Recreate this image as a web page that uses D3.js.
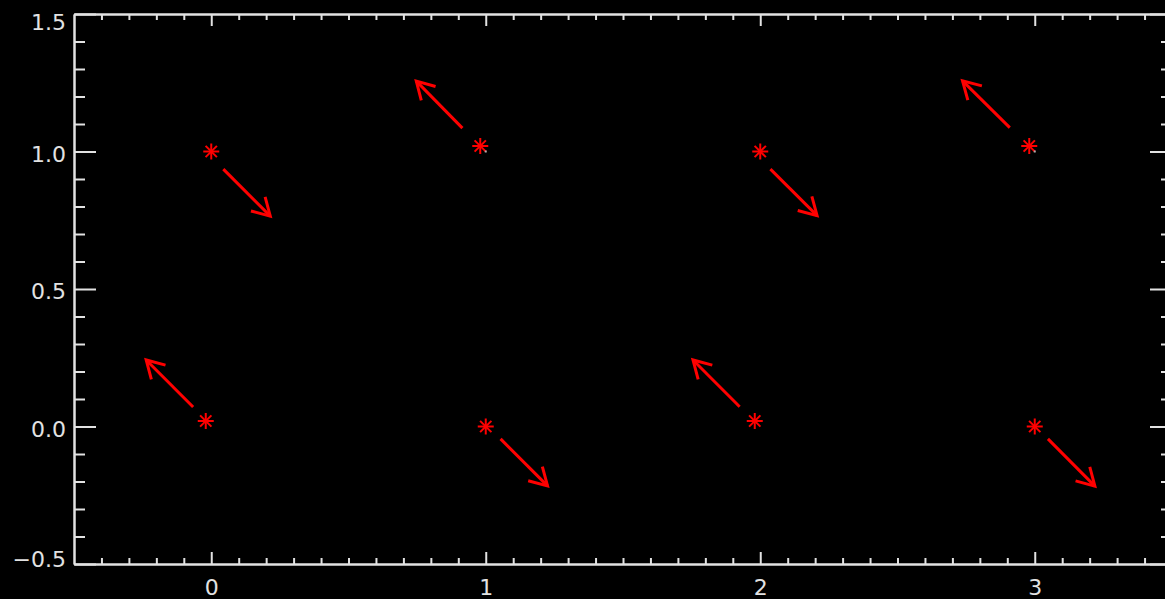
<!DOCTYPE html>
<html>
<head>
<meta charset="utf-8">
<script src="https://cdn.jsdelivr.net/npm/d3@7"></script>
<style>
  html, body { margin: 0; padding: 0; background: #000; }
  svg { display: block; }
</style>
</head>
<body>
<svg id="chart" width="1165" height="599"></svg>
<script>
// Asterisk markers
const starX = [-0.02, 0.0, 0.98, 1.0, 1.98, 2.0, 2.98, 3.0];
const starY = [0.02, 1.0, 1.02, 0.0, 0.02, 1.0, 1.02, 0.0];

// Small point markers
const dotX = [1, 3];
const dotY = [1, 1];

// Arrows: tail (x0,y0) to head (x1,y1)
const arrowX0 = [-0.066, 0.044, 0.915, 1.054, 2.037, 1.925, 2.909, 3.048];
const arrowY0 = [0.071, 0.936, 1.085, -0.045, 0.936, 0.072, 1.087, -0.045];
const arrowX1 = [-0.237, 0.215, 0.747, 1.225, 2.207, 1.755, 2.737, 3.219];
const arrowY1 = [0.242, 0.765, 1.256, -0.216, 0.767, 0.242, 1.257, -0.217];

// Axis ticks and labels
const xMajor = [0, 1, 2, 3];
const xLabels = ["0", "1", "2", "3"];
const yMajor = [-0.5, 0.0, 0.5, 1.0, 1.5];
const yLabels = ["\u22120.5", "0.0", "0.5", "1.0", "1.5"];
const xDomain = [-0.5, 3.5];
const yDomain = [-0.5, 1.5];

(function draw() {
  const AXIS = "#e2e2e2";
  const RED = "#ff0000";

  const svg = d3.select("#chart");
  svg.append("rect").attr("width", 1165).attr("height", 599).attr("fill", "#000");

  const pLeft = 74, pRight = 1172, pTop = 14, pBottom = 564;
  const x = d3.scaleLinear().domain(xDomain).range([pLeft, pRight]);
  const y = d3.scaleLinear().domain(yDomain).range([pBottom, pTop]);

  const minorX = d3.range(-4, 36).map(i => i / 10)
    .filter(v => !xMajor.some(m => Math.abs(m - v) < 1e-9));
  const minorY = d3.range(-4, 15).map(i => i / 10)
    .filter(v => !yMajor.some(m => Math.abs(m - v) < 1e-9));

  function styleAxis(g) {
    g.selectAll("path.domain").attr("stroke", AXIS).attr("stroke-width", 2);
    g.selectAll(".tick line").attr("stroke", AXIS).attr("stroke-width", 2);
    g.selectAll("text").attr("fill", AXIS)
      .attr("font-family", "DejaVu Sans, sans-serif").attr("font-size", 22);
  }

  // Bottom axis: major ticks with labels, then minor ticks
  const gb = svg.append("g").attr("transform", `translate(0,${pBottom})`)
    .call(d3.axisBottom(x).tickValues(xMajor).tickFormat((d, i) => xLabels[i])
      .tickSize(-12).tickSizeOuter(0).tickPadding(15));
  styleAxis(gb);
  gb.selectAll("text").attr("dy", "0.71em");
  const gbm = svg.append("g").attr("transform", `translate(0,${pBottom})`)
    .call(d3.axisBottom(x).tickValues(minorX).tickFormat("").tickSize(-6).tickSizeOuter(0));
  styleAxis(gbm);

  // Top axis
  const gt = svg.append("g").attr("transform", `translate(0,${pTop})`)
    .call(d3.axisTop(x).tickValues(xMajor).tickFormat("").tickSize(-12).tickSizeOuter(0));
  styleAxis(gt);
  const gtm = svg.append("g").attr("transform", `translate(0,${pTop})`)
    .call(d3.axisTop(x).tickValues(minorX).tickFormat("").tickSize(-6).tickSizeOuter(0));
  styleAxis(gtm);

  // Left axis with labels kept inside the canvas
  const gl = svg.append("g").attr("transform", `translate(${pLeft},0)`)
    .call(d3.axisLeft(y).tickValues(yMajor).tickFormat((d, i) => yLabels[i])
      .tickSize(-22).tickSizeOuter(0).tickPadding(8));
  styleAxis(gl);
  gl.selectAll(".tick text")
    .attr("dy", 0)
    .attr("y", d => Math.max(29, Math.min(566, y(d) + 9.5)) - y(d));
  const glm = svg.append("g").attr("transform", `translate(${pLeft},0)`)
    .call(d3.axisLeft(y).tickValues(minorY).tickFormat("").tickSize(-11).tickSizeOuter(0));
  styleAxis(glm);

  // Right axis
  const gr = svg.append("g").attr("transform", `translate(${pRight},0)`)
    .call(d3.axisRight(y).tickValues(yMajor).tickFormat("").tickSize(-22).tickSizeOuter(0));
  styleAxis(gr);
  const grm = svg.append("g").attr("transform", `translate(${pRight},0)`)
    .call(d3.axisRight(y).tickValues(minorY).tickFormat("").tickSize(-11).tickSizeOuter(0));
  styleAxis(grm);

  // Asterisks (8-armed star)
  const R = 8;
  const stars = svg.append("g").attr("stroke", RED).attr("stroke-width", 2);
  starX.forEach((sx, i) => {
    const g = stars.append("g").attr("transform", `translate(${x(sx)},${y(starY[i])})`);
    [0, 45, 90, 135].forEach(a => {
      const r = a * Math.PI / 180;
      g.append("line")
        .attr("x1", -R * Math.cos(r)).attr("y1", -R * Math.sin(r))
        .attr("x2", R * Math.cos(r)).attr("y2", R * Math.sin(r));
    });
  });

  // Small grey points
  svg.append("g").selectAll("rect")
    .data(dotX.map((d, i) => [d, dotY[i]]))
    .join("rect")
    .attr("x", d => x(d[0]) - 1).attr("y", d => y(d[1]) - 1)
    .attr("width", 2).attr("height", 2)
    .attr("fill", "#b0b0b0");

  // Arrows with open heads
  const headLen = 20, headAng = 30 * Math.PI / 180;
  const arrows = svg.append("g").attr("stroke", RED).attr("stroke-width", 3)
    .attr("fill", "none").attr("stroke-linecap", "butt");
  arrowX0.forEach((ax, i) => {
    const x0 = x(ax), y0 = y(arrowY0[i]);
    const x1 = x(arrowX1[i]), y1 = y(arrowY1[i]);
    const ang = Math.atan2(y0 - y1, x0 - x1);
    arrows.append("line").attr("x1", x0).attr("y1", y0).attr("x2", x1).attr("y2", y1);
    const p = d3.path();
    p.moveTo(x1 + headLen * Math.cos(ang + headAng), y1 + headLen * Math.sin(ang + headAng));
    p.lineTo(x1, y1);
    p.lineTo(x1 + headLen * Math.cos(ang - headAng), y1 + headLen * Math.sin(ang - headAng));
    arrows.append("path").attr("d", p.toString()).attr("stroke-linejoin", "miter");
  });
})();
</script>
</body>
</html>
